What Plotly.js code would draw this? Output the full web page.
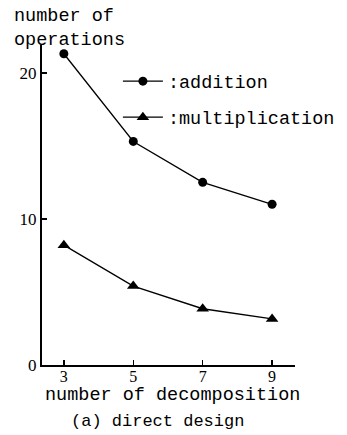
<!DOCTYPE html>
<html><head><meta charset="utf-8">
<script src="https://cdn.plot.ly/plotly-3.0.1.min.js"></script>
<style>html,body{margin:0;padding:0;background:#fff;}#chart{width:347px;height:435px;}</style>
</head><body><div id="chart"></div>
<script>
var decomposition = [3, 5, 7, 9];
var addition = [21.3, 15.3, 12.5, 11.0];
var multiplication = [8.2, 5.4, 3.85, 3.15];
var xTicks = [3, 5, 7, 9];
var yTicks = [0, 10, 20];

var mono = "Liberation Mono, DejaVu Sans Mono, monospace";
var serif = "Liberation Serif, DejaVu Serif, serif";

var traces = [
  {x: decomposition, y: addition, name: ':addition', legendgroup: 'a', mode: 'lines+markers', cliponaxis: false,
   line: {color: '#000', width: 1.3}, marker: {symbol: 'circle', size: 9, color: '#000'}},
  {x: decomposition, y: multiplication, name: ':multiplication', legendgroup: 'm', mode: 'lines+markers', cliponaxis: false,
   line: {color: '#000', width: 1.3}, marker: {symbol: 'triangle-up', size: 11, color: '#000'}}
];

var layout = {
  width: 347, height: 435,
  margin: {l: 42, r: 52, t: 45, b: 70, autoexpand: false},
  paper_bgcolor: '#fff', plot_bgcolor: '#fff',
  showlegend: true,
  legend: {x: 0.30, y: 0.945, xanchor: 'left', yanchor: 'top', bgcolor: 'rgba(0,0,0,0)',
           font: {family: mono, size: 18.5, color: '#000'}, itemwidth: 40, tracegroupgap: 9},
  xaxis: {range: [2.37, 9.66], tickvals: xTicks, ticktext: xTicks.map(String), automargin: false,
          showgrid: false, zeroline: false, showline: true, linecolor: '#000', linewidth: 2,
          ticks: 'inside', ticklen: 5, tickcolor: '#000', tickwidth: 1.5, ticklabelstandoff: -4,
          tickfont: {family: serif, size: 16, color: '#000'}},
  yaxis: {range: [0, 21.9], tickvals: yTicks, ticktext: yTicks.map(String), automargin: false,
          showgrid: false, zeroline: false, showline: true, linecolor: '#000', linewidth: 2,
          ticks: 'inside', ticklen: 5, tickcolor: '#000', tickwidth: 1.5,
          tickfont: {family: serif, size: 17, color: '#000'}},
  annotations: [
    {xref: 'paper', yref: 'paper', x: -0.118, y: 1.128, xanchor: 'left', yanchor: 'top', showarrow: false,
     align: 'left', text: 'number of<br>operations', font: {family: mono, size: 18.5, color: '#000'}},
    {xref: 'paper', yref: 'paper', x: 0.514, y: -0.094, xanchor: 'center', yanchor: 'middle', showarrow: false,
     text: 'number of decomposition', font: {family: mono, size: 18.5, color: '#000'}},
    {xref: 'paper', yref: 'paper', x: 0.458, y: -0.178, xanchor: 'center', yanchor: 'middle', showarrow: false,
     text: '(a) direct design', font: {family: mono, size: 17, color: '#000'}}
  ]
};
Plotly.newPlot('chart', traces, layout, {displayModeBar: false, staticPlot: true});
</script></body></html>
